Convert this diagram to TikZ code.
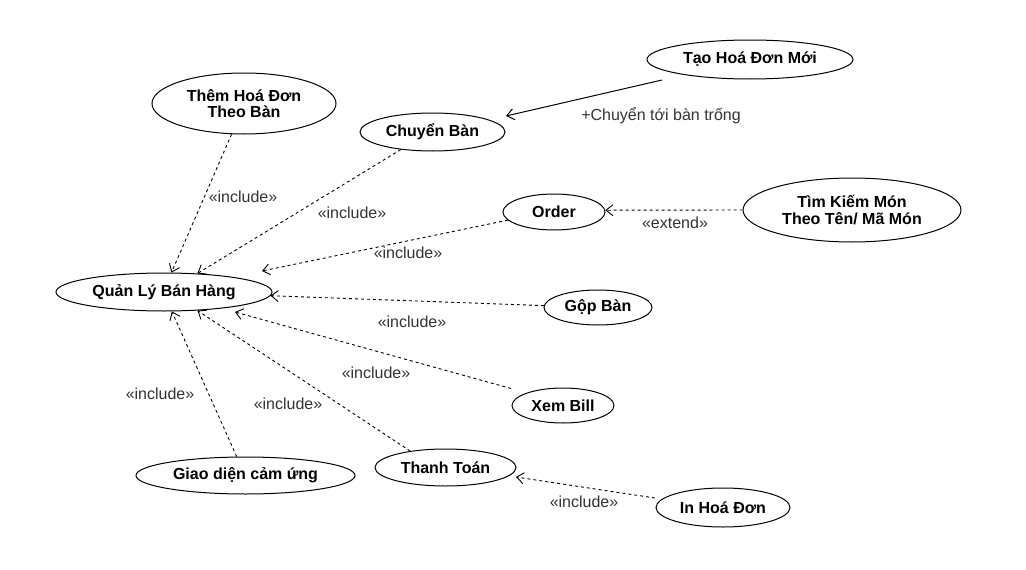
\documentclass[tikz,border=0pt]{standalone}
\usepackage{fontspec}
\setmainfont{Liberation Sans}
\usetikzlibrary{shapes.geometric,arrows.meta}
\begin{document}
\begin{tikzpicture}[x=1pt,y=-1pt,
  uc/.style={draw, ellipse, line width=1pt, inner sep=0pt, align=center,
    font=\bfseries\fontsize{16pt}{16.5pt}\selectfont},
  lbl/.style={font=\fontsize{16pt}{16pt}\selectfont, text=black!80, inner sep=0pt},
  dep/.style={draw, line width=0.9pt, dash pattern=on 3pt off 3pt,
    -{Straight Barb[length=7pt,width=11pt]}},
  assoc/.style={draw, line width=1pt, -{Straight Barb[length=7pt,width=11pt]}}]
\useasboundingbox[fill=white] (0,0) rectangle (1026,570);

% use cases
\node[uc, minimum width=184pt, minimum height=61pt] (thm) at (244,103.5) {Thêm Hoá Đơn\\Theo Bàn};
\node[uc, minimum width=145pt, minimum height=38pt] (chb) at (432.5,132) {Chuyển Bàn};
\node[uc, minimum width=206pt, minimum height=39pt] (tao) at (750,59.5) {Tạo Hoá Đơn Mới};
\node[uc, minimum width=102pt, minimum height=36pt] (ord) at (554,212) {Order};
\node[uc, minimum width=218pt, minimum height=64pt] (tk) at (852,210) {Tìm Kiếm Món\\Theo Tên/ Mã Món};
\node[uc, minimum width=216pt, minimum height=38pt] (q) at (164,292) {Quản Lý Bán Hàng};
\node[uc, minimum width=108pt, minimum height=35pt] (gop) at (598,307.5) {Gộp Bàn};
\node[uc, minimum width=102pt, minimum height=35pt] (xb) at (563,405.5) {Xem Bill};
\node[uc, minimum width=141pt, minimum height=37pt] (tt) at (445.5,467.5) {Thanh Toán};
\node[uc, minimum width=219pt, minimum height=37pt] (gd) at (245.5,475.5) {Giao diện cảm ứng};
\node[uc, minimum width=134pt, minimum height=39pt] (ihd) at (723,507.5) {In Hoá Đơn};

% connectors
\draw[dep] (thm.-112) -- (q.69);
\draw[dep] (chb.-151) -- (q.29);
\draw[dep] (ord.-170) -- ([shift={(98pt,21pt)}]q.center);
\draw[dep] (gop.178) -- (q.-2);
\draw[dep] ([shift={(-52pt,17pt)}]xb.center) -- ([shift={(71pt,-20pt)}]q.center);
\draw[dep] (tt.155) -- (q.-29);
\draw[dep] (gd.115) -- (q.-68);
\draw[dep] ([shift={(-68pt,9.5pt)}]ihd.center) -- ([shift={(70.5pt,-9.5pt)}]tt.center);
\draw[dep] (tk.180) -- (ord.2);
\draw[assoc] ([shift={(-88pt,-20.5pt)}]tao.center) -- ([shift={(73.5pt,16pt)}]chb.center);

% labels
\node[lbl] (l1) at (243,197) {«include»};
\node[lbl] (l2) at (352,213) {«include»};
\node[lbl] (l3) at (408,253) {«include»};
\node[lbl] (l4) at (412,322) {«include»};
\node[lbl] (l5) at (376,373) {«include»};
\node[lbl] (l6) at (288,404) {«include»};
\node[lbl] (l7) at (160,394) {«include»};
\node[lbl] (l8) at (584,502) {«include»};
\node[lbl] (l9) at (675,223) {«extend»};
\node[lbl] (l10) at (661,116) {+Chuyển tới bàn trống};
\end{tikzpicture}
\end{document}
